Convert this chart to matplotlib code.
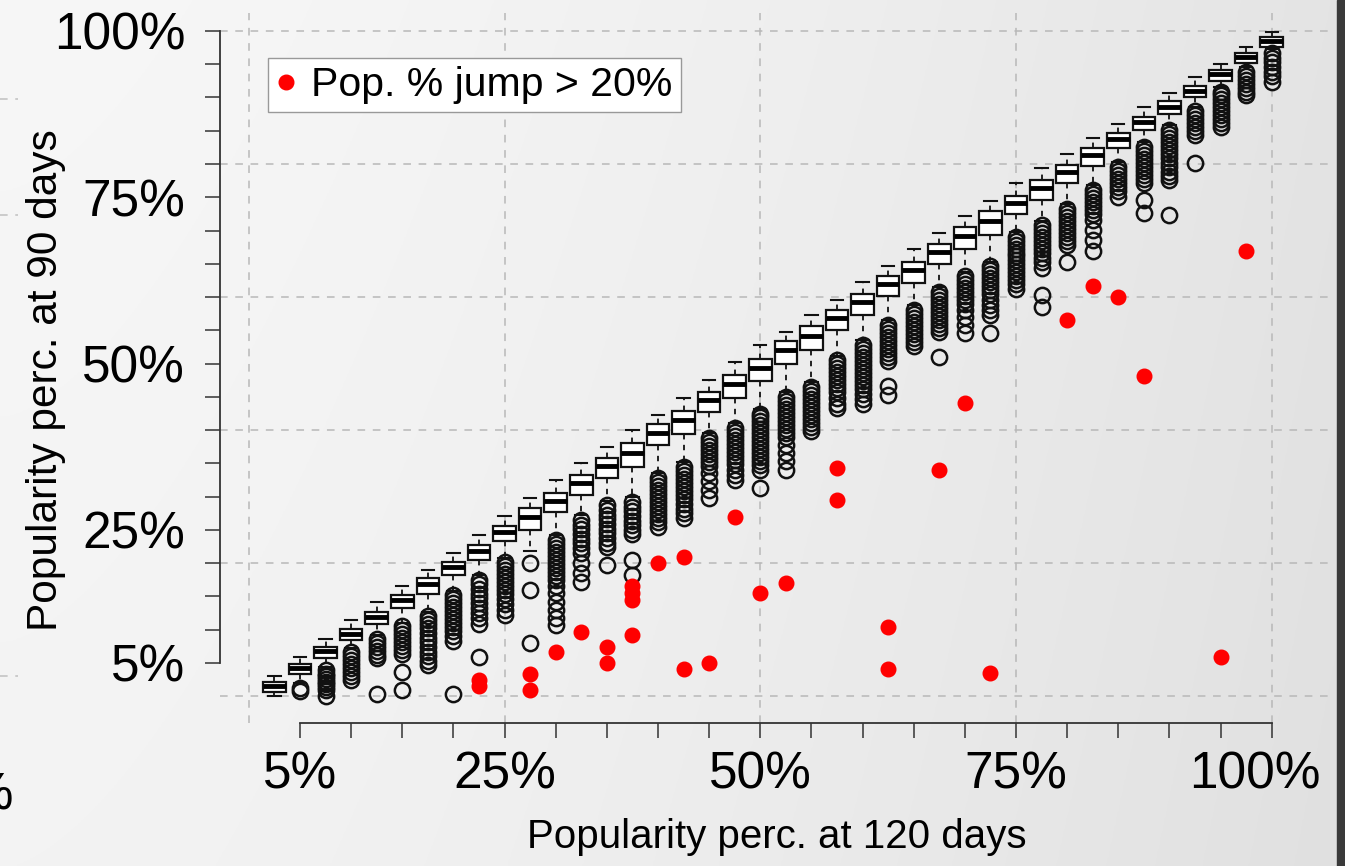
import numpy as np
import matplotlib
matplotlib.use('agg')
import matplotlib.pyplot as plt
import matplotlib.transforms as mtransforms
from matplotlib.patches import Rectangle

plt.rcParams['font.family'] = ['Liberation Sans', 'DejaVu Sans']

# box positions: popularity percentile at 120 days
box_pos = [2.5, 5.0, 7.5, 10.0, 12.5, 15.0, 17.5, 20.0, 22.5, 25.0,
           27.5, 30.0, 32.5, 35.0, 37.5, 40.0, 42.5, 45.0, 47.5, 50.0,
           52.5, 55.0, 57.5, 60.0, 62.5, 65.0, 67.5, 70.0, 72.5, 75.0,
           77.5, 80.0, 82.5, 85.0, 87.5, 90.0, 92.5, 95.0, 97.5, 100.0]

# box statistics: popularity percentile at 90 days
q3 = [2.1, 4.85, 7.45, 10.1, 12.7, 15.2, 17.7, 20.2, 22.7, 25.6,
      28.25, 30.6, 33.3, 35.8, 38.1, 40.9, 42.9, 45.8, 48.3, 50.7,
      53.4, 55.6, 58.1, 60.5, 63.1, 65.3, 68.0, 70.5, 72.9, 75.2,
      77.6, 79.9, 82.4, 84.6, 87.1, 89.4, 91.7, 94.2, 96.65, 99.05]
med = [1.5, 4.2, 6.8, 9.4, 11.9, 14.4, 16.8, 19.4, 21.8, 24.7,
       27.0, 29.4, 32.1, 34.6, 36.6, 39.6, 41.5, 44.6, 46.9, 49.4,
       52.0, 54.2, 56.8, 59.2, 61.9, 64.0, 66.8, 69.2, 71.5, 74.1,
       76.4, 78.8, 81.3, 83.7, 86.3, 88.6, 91.0, 93.5, 96.1, 98.5]
q1 = [0.6, 3.3, 5.75, 8.45, 10.8, 13.2, 15.4, 18.2, 20.5, 23.3,
      25.0, 27.7, 30.3, 32.8, 34.4, 37.7, 39.4, 42.8, 44.8, 47.4,
      50.0, 52.0, 55.0, 57.3, 60.1, 62.1, 65.0, 67.2, 69.3, 72.5,
      74.6, 77.2, 79.7, 82.4, 85.1, 87.5, 90.0, 92.5, 95.25, 97.65]
whis_hi = [3.0, 5.95, 8.55, 11.4, 14.1, 16.6, 19.0, 21.6, 24.3, 27.1,
           29.8, 32.5, 35.0, 37.5, 40.0, 42.3, 44.8, 47.6, 50.3, 52.8,
           54.8, 57.3, 59.5, 62.3, 64.7, 67.3, 69.7, 72.2, 74.5, 77.1,
           79.4, 81.5, 83.9, 86.0, 88.5, 90.7, 93.1, 95.1, 97.65, 99.9]
whis_lo = [0.0, 2.0, 4.4, 7.2, 9.2, 11.0, 12.6, 15.8, 18.2, 20.8,
           21.8, 24.2, 27.2, 29.4, 30.0, 33.5, 35.2, 39.5, 41.0, 43.2,
           45.7, 47.2, 51.2, 53.5, 56.5, 58.8, 61.5, 63.8, 65.3, 69.8,
           71.5, 74.0, 76.8, 80.3, 83.3, 85.8, 88.6, 91.6, 94.6, 97.3]

# outliers below each box
outliers = [
    [],
    [1.3, 0.8],
    [3.9, 3.4, 3.0, 2.6, 2.2, 1.8, 1.4, 1.0, 0.0],
    [6.7, 6.1, 5.5, 4.9, 4.3, 3.7, 3.1, 2.5],
    [8.6, 8.0, 7.4, 6.8, 6.2, 5.7, 0.3],
    [10.5, 9.9, 9.3, 8.7, 8.1, 7.5, 6.9, 6.3, 3.7, 1.0],
    [12.0, 11.4, 10.8, 10.2, 9.5, 8.8, 8.1, 7.4, 6.7, 6.0, 5.3, 4.7],
    [15.2, 14.6, 14.0, 13.4, 12.8, 12.2, 11.6, 11.0, 10.4, 9.8, 9.0, 8.3, 0.3],
    [17.5, 16.8, 16.1, 15.4, 14.7, 14.0, 13.3, 12.5, 11.7, 10.8, 5.9],
    [20.2, 19.6, 19.0, 18.4, 17.8, 17.2, 16.6, 16.0, 15.3, 14.6, 13.8, 13.0, 12.2],
    [20.0, 16.0, 8.0],
    [23.5, 22.9, 22.3, 21.7, 21.1, 20.5, 19.9, 19.3, 18.7, 18.1, 17.5,
     16.5, 15.5, 14.2, 13.0, 11.7, 10.7],
    [26.5, 25.8, 25.1, 24.4, 23.7, 23.0, 22.3, 21.5, 20.0, 18.5, 17.2],
    [28.7, 28.0, 27.3, 26.6, 25.9, 25.2, 24.5, 23.8, 23.0, 22.5, 19.7],
    [29.2, 28.5, 27.8, 27.1, 26.4, 25.7, 25.0, 24.4, 20.5, 18.2],
    [32.8, 32.2, 31.6, 31.0, 30.4, 29.8, 29.2, 28.6, 28.0, 27.4, 26.8, 26.2, 25.5],
    [34.5, 33.9, 33.3, 32.7, 32.1, 31.5, 30.9, 30.3, 29.6, 28.9, 28.2, 27.5, 26.8],
    [38.8, 38.2, 37.6, 37.0, 36.4, 35.8, 35.2, 34.6, 33.5, 32.3, 31.0, 29.8],
    [40.3, 39.7, 39.1, 38.5, 37.9, 37.3, 36.7, 36.1, 35.5, 34.9, 34.0, 33.2, 32.5],
    [42.5, 41.9, 41.3, 40.7, 40.1, 39.5, 38.9, 38.3, 37.7, 37.1, 36.5,
     35.9, 35.3, 34.7, 34.0, 31.3],
    [45.0, 44.4, 43.8, 43.2, 42.6, 42.0, 41.4, 40.8, 40.2, 39.6, 38.9,
     37.8, 36.5, 35.3, 34.0],
    [46.5, 45.9, 45.3, 44.7, 44.1, 43.5, 42.9, 42.3, 41.7, 41.1, 40.5, 39.8],
    [50.5, 49.9, 49.3, 48.7, 48.1, 47.5, 46.9, 46.3, 45.7, 44.8, 44.0, 43.3],
    [52.8, 52.2, 51.6, 51.0, 50.4, 49.8, 49.2, 48.6, 48.0, 47.4, 46.8,
     46.2, 45.5, 44.7, 43.9],
    [55.8, 55.2, 54.6, 54.0, 53.4, 52.8, 52.2, 51.6, 51.0, 50.4, 46.6, 45.3],
    [58.1, 57.5, 56.9, 56.3, 55.7, 55.1, 54.5, 53.9, 53.3, 52.6],
    [60.8, 60.2, 59.6, 59.0, 58.4, 57.8, 57.2, 56.6, 56.0, 55.4, 54.8, 51.0],
    [63.1, 62.5, 61.9, 61.3, 60.7, 60.1, 59.5, 58.9, 58.0, 57.0, 55.8, 54.6],
    [64.6, 64.0, 63.4, 62.8, 62.2, 61.6, 61.0, 60.4, 59.6, 58.8, 58.0, 57.3, 54.6],
    [69.1, 68.5, 67.9, 67.3, 66.7, 66.1, 65.5, 64.9, 64.3, 63.7, 63.1, 62.5, 61.9, 61.2],
    [70.8, 70.2, 69.6, 69.0, 68.4, 67.8, 67.2, 66.6, 65.9, 65.2, 64.3, 60.3, 58.5],
    [73.3, 72.7, 72.1, 71.5, 70.9, 70.3, 69.7, 69.1, 68.5, 67.8, 65.3],
    [76.1, 75.5, 74.9, 74.3, 73.7, 73.1, 72.5, 71.6, 70.1, 68.6, 66.9],
    [79.6, 79.0, 78.4, 77.8, 77.2, 76.6, 75.9, 75.1],
    [82.6, 82.0, 81.4, 80.8, 80.2, 79.6, 79.0, 78.4, 77.7, 77.1, 74.6, 72.6],
    [85.1, 84.5, 83.9, 83.3, 82.7, 82.1, 81.5, 80.9, 80.2, 79.5, 78.8,
     78.2, 77.6, 72.3],
    [87.9, 87.3, 86.7, 86.1, 85.5, 84.9, 84.4, 80.1],
    [90.9, 90.3, 89.7, 89.1, 88.5, 87.9, 87.3, 86.7, 86.1, 85.6],
    [93.9, 93.3, 92.7, 92.1, 91.5, 90.9, 90.4],
    [96.65, 96.0, 95.3, 94.6, 93.9, 93.2, 92.4],
]

# songs whose popularity percentile jumped by more than 20 points
jump_x = [22.5, 22.5, 27.5, 27.5, 30.0, 32.5, 35.0, 35.0, 37.5, 37.5, 37.5,
          37.5, 40.0, 42.5, 42.5, 45.0, 47.5, 50.0, 52.5, 57.5, 57.5, 62.5,
          62.5, 67.5, 70.0, 72.5, 80.0, 82.5, 85.0, 87.5, 95.0, 97.5]
jump_y = [2.4, 1.5, 3.3, 0.9, 6.7, 9.7, 7.4, 5.0, 16.5, 15.5, 14.5,
          9.2, 20.0, 20.9, 4.1, 5.0, 27.0, 15.5, 17.0, 34.3, 29.5, 10.4,
          4.1, 34.0, 44.1, 3.5, 56.6, 61.7, 60.0, 48.1, 5.9, 66.9]

tick_vals = [5, 25, 50, 75, 100]
tick_labels = ['5%', '25%', '50%', '75%', '100%']
minor_vals = [10, 15, 20, 30, 35, 40, 45, 55, 60, 65, 70, 80, 85, 90, 95]

W, H = 1345, 866
fig = plt.figure(figsize=(W / 100, H / 100), dpi=100)

# soft gray gradient background
bg = fig.add_axes([0, 0, 1, 1], zorder=-10)
gx, gy = np.meshgrid(np.linspace(0, 1, 400), np.linspace(0, 1, 300))
shade = 0.968 - 0.075 * gx ** 1.6 - 0.015 * gy
bg.imshow(np.dstack([shade] * 3), extent=[0, 1, 0, 1], aspect='auto', origin='upper')
bg.add_patch(Rectangle((1337 / W, 0), 1, 1, color='#3a3a3a'))
# fragments of the neighbouring panel at the left edge
for yy in [99, 215, 676]:
    bg.plot([0, 18 / W], [1 - yy / H] * 2, color='#c0c0c0', lw=1.1, ls=(0, (5, 5)))
bg.set_xlim(0, 1)
bg.set_ylim(0, 1)
bg.axis('off')
fig.text(14 / W, 1 - 809 / H, '100%', ha='right', va='baseline', fontsize=37)

ax = fig.add_axes([220 / W, (H - 723) / H, (1328 - 220) / W, (723 - 13) / H])
ax.set_facecolor('none')
ax.set_xlim(-2.82, 105.5)
ax.set_ylim(-4.02, 102.7)

grid_kw = dict(color='#b8b8b8', lw=1.1, ls=(0, (5, 5)), zorder=0)
for v in [0, 25, 50, 75, 100]:
    ax.axvline(v, **grid_kw)
for v in [0, 20, 40, 60, 80, 100]:
    ax.axhline(v, **grid_kw)

stats = []
for i in range(len(box_pos)):
    stats.append(dict(med=med[i], q1=q1[i], q3=q3[i], whislo=whis_lo[i],
                      whishi=whis_hi[i], fliers=outliers[i]))

ax.bxp(stats, positions=box_pos, widths=2.2, capwidths=1.2, patch_artist=True,
       manage_ticks=False,
       boxprops=dict(facecolor='white', edgecolor='#111111', lw=1.6),
       medianprops=dict(color='black', lw=3.5),
       whiskerprops=dict(color='#111111', lw=1.3, ls=(0, (3, 3))),
       capprops=dict(color='#111111', lw=1.5),
       flierprops=dict(marker='o', mfc='none', mec='#111111', ms=11, mew=1.8))

ax.plot(jump_x, jump_y, ls='none', marker='o', color='#ff0000', ms=10.5,
        label='Pop. % jump > 20%', zorder=5)

leg = ax.legend(loc='upper left', bbox_to_anchor=(0.0433, 0.9366), borderaxespad=0,
                fontsize=29.5, handlelength=0.5, handletextpad=0.35, borderpad=0.2,
                fancybox=False, framealpha=1, markerscale=1.0)
leg.get_frame().set_edgecolor('#999999')
leg.get_frame().set_linewidth(1.0)

for s in ['top', 'right']:
    ax.spines[s].set_visible(False)
for s in ['left', 'bottom']:
    ax.spines[s].set_color('#333333')
    ax.spines[s].set_linewidth(1.3)
ax.spines['left'].set_bounds(5, 100)
ax.spines['bottom'].set_bounds(5, 100)

ax.set_xticks(tick_vals)
ax.set_xticklabels(tick_labels)
ax.set_yticks(tick_vals)
ax.set_yticklabels(tick_labels)
ax.set_xticks(minor_vals, minor=True)
ax.set_yticks(minor_vals, minor=True)
ax.tick_params(which='both', direction='out', length=11, width=1.1, color='#333333')
ax.tick_params(axis='x', which='major', labelsize=37, pad=9)
ax.tick_params(axis='y', which='major', labelsize=37, pad=14)

# the last x label sits a little left of its tick
last = ax.get_xticklabels()[-1]
last.set_transform(last.get_transform() +
                   mtransforms.ScaledTranslation(-17 / 100, 0, fig.dpi_scale_trans))

fig.text(46 / W, 1 - 380 / H, 'Popularity perc. at 90 days', rotation=90,
         ha='center', va='center', fontsize=30.5)
fig.text(777 / W, 1 - 848 / H, 'Popularity perc. at 120 days',
         ha='center', va='baseline', fontsize=29)

fig.savefig('out.png', dpi=100)
